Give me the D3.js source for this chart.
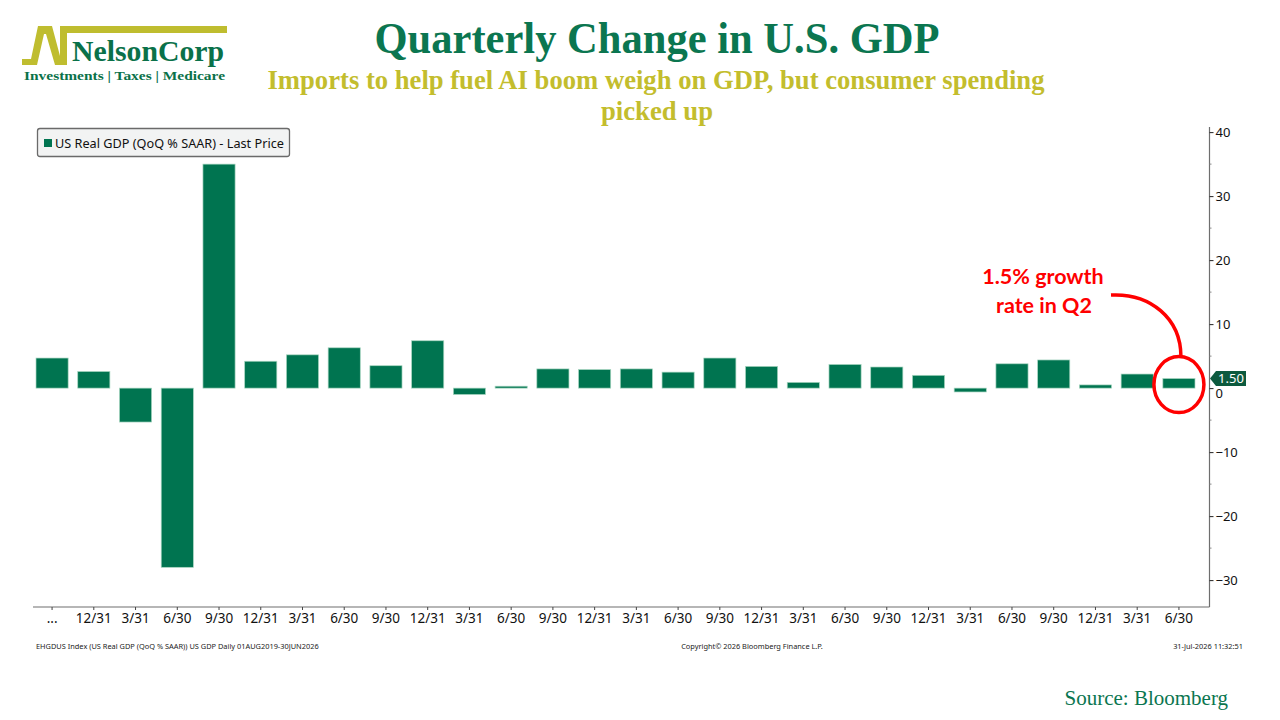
<!DOCTYPE html>
<html>
<head>
<meta charset="utf-8">
<script src="https://cdn.jsdelivr.net/npm/d3@7"></script>
<style>
  body { margin: 0; background: #ffffff; }
  svg { display: block; }
</style>
</head>
<body>
<script>
// quarter-end dates, Q3 2019 .. Q2 2026
const periods = [
  "2019-09-30", "2019-12-31", "2020-03-31", "2020-06-30", "2020-09-30", "2020-12-31",
  "2021-03-31", "2021-06-30", "2021-09-30", "2021-12-31", "2022-03-31", "2022-06-30",
  "2022-09-30", "2022-12-31", "2023-03-31", "2023-06-30", "2023-09-30", "2023-12-31",
  "2024-03-31", "2024-06-30", "2024-09-30", "2024-12-31", "2025-03-31", "2025-06-30",
  "2025-09-30", "2025-12-31", "2026-03-31", "2026-06-30"
];
const tickLabels = [
  "...", "12/31", "3/31", "6/30", "9/30", "12/31", "3/31", "6/30", "9/30", "12/31",
  "3/31", "6/30", "9/30", "12/31", "3/31", "6/30", "9/30", "12/31", "3/31", "6/30",
  "9/30", "12/31", "3/31", "6/30", "9/30", "12/31", "3/31", "6/30"
];
// US Real GDP, QoQ % SAAR
const gdpValues = [
  4.7, 2.6, -5.3, -28.0, 35.0, 4.2, 5.2, 6.3, 3.5, 7.4, -1.0, 0.3, 3.0, 2.9,
  3.0, 2.5, 4.7, 3.4, 0.9, 3.7, 3.3, 2.0, -0.6, 3.8, 4.4, 0.5, 2.2, 1.5
];
const majorTicks = [-30, -20, -10, 0, 10, 20, 30, 40];
const minorTicks = [-25, -15, -5, 5, 15, 25, 35];

const width = 1280, height = 720;
const green = "#007450";
const olive = "#c3bd2d";
const red = "#ff0000";
const axisFont = "'Noto Sans', 'DejaVu Sans', sans-serif";

const svg = d3.select("body").append("svg")
  .attr("width", width).attr("height", height);

svg.append("rect").attr("width", width).attr("height", height).attr("fill", "#ffffff");

// ---- logo ----
let logo = svg.append("g");
logo.append("polygon")
  .attr("points", "22,59 31,59 38,26 52,26 60,56 60,26 227,26 227,33 67,33 67,65 55,65 46,34 44,34 37,65 22,65")
  .attr("fill", "#bfbd2f");
logo.append("text")
  .attr("x", 72).attr("y", 61)
  .attr("textLength", 152).attr("lengthAdjust", "spacingAndGlyphs")
  .style("font-family", "'Liberation Serif', serif").style("font-weight", "bold")
  .style("font-size", "30px").style("fill", "#0a7149")
  .text("NelsonCorp");
logo.append("text")
  .attr("x", 24).attr("y", 80)
  .attr("textLength", 201).attr("lengthAdjust", "spacingAndGlyphs")
  .style("font-family", "'Liberation Serif', serif").style("font-weight", "bold")
  .style("font-size", "13px").style("fill", "#0a7149")
  .text("Investments | Taxes | Medicare");

// ---- titles ----
svg.append("text")
  .attr("x", 657).attr("y", 53).attr("text-anchor", "middle")
  .attr("textLength", 565).attr("lengthAdjust", "spacingAndGlyphs")
  .style("font-family", "'Liberation Serif', serif").style("font-weight", "bold")
  .style("font-size", "44px").style("fill", "#0b7650")
  .text("Quarterly Change in U.S. GDP");
svg.append("text")
  .attr("x", 656).attr("y", 89).attr("text-anchor", "middle")
  .attr("textLength", 777).attr("lengthAdjust", "spacingAndGlyphs")
  .style("font-family", "'Liberation Serif', serif").style("font-weight", "bold")
  .style("font-size", "28px").style("fill", olive)
  .text("Imports to help fuel AI boom weigh on GDP, but consumer spending");
svg.append("text")
  .attr("x", 657).attr("y", 120).attr("text-anchor", "middle")
  .attr("textLength", 112).attr("lengthAdjust", "spacingAndGlyphs")
  .style("font-family", "'Liberation Serif', serif").style("font-weight", "bold")
  .style("font-size", "28px").style("fill", olive)
  .text("picked up");

// ---- scales ----
let x = d3.scaleBand()
  .domain(periods)
  .range([31, 1200])
  .paddingInner(0.23)
  .paddingOuter(0.12);

let y = d3.scaleLinear()
  .domain([-34.2, 40.8])
  .range([607, 127]);

// ---- bars ----
svg.append("g")
  .selectAll("rect")
  .data(gdpValues)
  .enter()
  .append("rect")
    .attr("x", (d, i) => x(periods[i]))
    .attr("width", x.bandwidth())
    .attr("y", d => y(Math.max(0, d)))
    .attr("height", d => Math.max(1, Math.abs(y(d) - y(0))))
    .attr("fill", green)
    .attr("stroke", "#a8d6c1")
    .attr("stroke-width", 0.7);

// ---- x axis ----
svg.append("line")
  .attr("x1", 33).attr("x2", 1209.5)
  .attr("y1", 607).attr("y2", 607)
  .attr("stroke", "#6e6e6e").attr("stroke-width", 1.2);

let xAxis = svg.append("g")
  .attr("transform", "translate(0,607)")
  .call(d3.axisBottom(x).tickSize(3).tickPadding(3)
    .tickFormat((d, i) => tickLabels[i]));
xAxis.select(".domain").remove();
xAxis.selectAll(".tick line").attr("stroke", "#444");
xAxis.selectAll("text")
  .style("font-family", axisFont).style("font-size", "13.5px").style("fill", "#111");

// ---- right y axis ----
let yAxis = svg.append("g")
  .attr("transform", "translate(1209.5,0)")
  .call(d3.axisRight(y).tickValues(majorTicks).tickSize(4).tickPadding(2));
yAxis.select(".domain")
  .attr("d", "M0," + y.range()[1] + "V" + y.range()[0])
  .attr("stroke", "#6e6e6e").attr("stroke-width", 1.2);
yAxis.selectAll(".tick line").attr("stroke", "#222");
yAxis.selectAll("text")
  .style("font-family", axisFont).style("font-size", "13px").style("fill", "#111");
// the zero label sits partly under the last-price tag, as in the source chart
yAxis.selectAll(".tick text").filter(d => d === 0).attr("dy", "0.75em");

svg.append("g")
  .attr("transform", "translate(1209.5,0)")
  .selectAll("line")
  .data(minorTicks)
  .enter()
  .append("line")
    .attr("x1", 0).attr("x2", 2)
    .attr("y1", d => y(d)).attr("y2", d => y(d))
    .attr("stroke", "#888");

// last price tag
let lastValue = gdpValues[gdpValues.length - 1];
let tagY = y(lastValue);
svg.append("polygon")
  .attr("points", [[1210, tagY], [1216, tagY - 7.5], [1246, tagY - 7.5], [1246, tagY + 7.5], [1216, tagY + 7.5]].join(" "))
  .attr("fill", "#0c5a3e");
svg.append("text")
  .attr("x", 1231).attr("y", tagY + 4.5).attr("text-anchor", "middle")
  .style("font-family", axisFont).style("font-size", "13px").style("fill", "#ffffff")
  .text(d3.format(".2f")(lastValue));

// ---- legend ----
let legend = svg.append("g");
legend.append("rect")
  .attr("x", 37.5).attr("y", 128.5).attr("width", 252).attr("height", 28).attr("rx", 2.5)
  .attr("fill", "#f2f3f3").attr("stroke", "#6a6a6a").attr("stroke-width", 1.3);
legend.append("rect")
  .attr("x", 44).attr("y", 139).attr("width", 8).attr("height", 8)
  .attr("fill", green);
legend.append("text")
  .attr("x", 55).attr("y", 148)
  .style("font-family", axisFont).style("font-size", "12.7px").style("fill", "#111")
  .text("US Real GDP (QoQ % SAAR) - Last Price");

// ---- annotation ----
let cx = x(periods[periods.length - 1]) + x.bandwidth() / 2;
let cy = y(0) - 3.5;
svg.append("ellipse")
  .attr("cx", cx).attr("cy", cy).attr("rx", 25).attr("ry", 28)
  .attr("fill", "none").attr("stroke", red).attr("stroke-width", 3.5);
svg.append("path")
  .attr("d", "M1111,295 C1150,293 " + (cx + 2) + ",318 " + (cx + 2) + "," + (cy - 28))
  .attr("fill", "none").attr("stroke", red).attr("stroke-width", 3.5);
let note = svg.append("text")
  .attr("text-anchor", "middle")
  .style("font-family", "Lato, 'Open Sans', sans-serif").style("font-weight", "bold")
  .style("font-size", "21.5px").style("fill", red);
note.append("tspan").attr("x", 1043).attr("y", 284).text("1.5% growth");
note.append("tspan").attr("x", 1044).attr("y", 313).text("rate in Q2");

// ---- footer ----
let foot = svg.append("g")
  .style("font-family", axisFont).style("font-size", "7.4px").style("fill", "#222");
foot.append("text").attr("x", 36).attr("y", 649)
  .text("EHGDUS Index (US Real GDP (QoQ % SAAR)) US GDP Daily 01AUG2019-30JUN2026");
foot.append("text").attr("x", 752).attr("y", 649).attr("text-anchor", "middle")
  .text("Copyright\u00A9 2026 Bloomberg Finance L.P.");
foot.append("text").attr("x", 1243).attr("y", 649).attr("text-anchor", "end")
  .text("31-Jul-2026 11:32:51");

svg.append("text")
  .attr("x", 1228).attr("y", 705).attr("text-anchor", "end")
  .style("font-family", "'Liberation Serif', serif").style("font-size", "21px").style("fill", "#0b7650")
  .text("Source: Bloomberg");
</script>
</body>
</html>
